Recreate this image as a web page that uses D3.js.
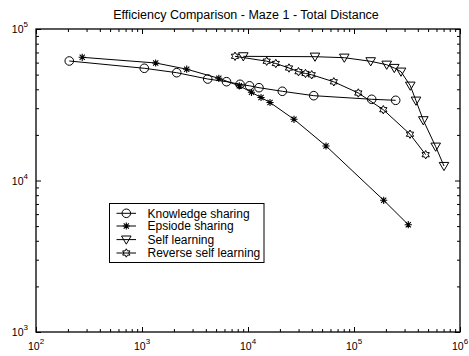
<!DOCTYPE html>
<html><head><meta charset="utf-8">
<script src="https://cdn.jsdelivr.net/npm/d3@7"></script>
<style>
html,body{margin:0;padding:0;background:#fff;}
svg{display:block;font-family:"Liberation Sans",Arial,Helvetica,sans-serif;}
</style></head>
<body>
<svg id="chart" width="469" height="356"></svg>
<script>
const title = "Efficiency Comparison - Maze 1 - Total Distance";
const seriesNames = ["Knowledge sharing", "Epsiode sharing", "Self learning", "Reverse self learning"];
const markerTypes = ["circle", "asterisk", "triangle", "hexagram"];

const knowledgeX = [206, 1051, 2125, 4168, 6270, 8405, 10330, 12700, 21070, 41690, 146900, 247300];
const knowledgeY = [61500, 55050, 51470, 46770, 44900, 43150, 42170, 40980, 38800, 36300, 34360, 33830];

const episodeX = [273, 1346, 2641, 5305, 8277, 10790, 13270, 16130, 27160, 54450, 190600, 325200];
const episodeY = [65030, 59650, 54280, 47260, 42170, 38200, 35300, 32730, 25350, 16900, 7402, 5108];

const selfX = [9030, 42850, 81000, 143700, 203500, 239900, 277500, 339700, 384600, 450700, 590000, 706300];
const selfY = [66000, 65640, 64650, 61200, 58090, 55280, 52280, 42250, 33640, 24970, 16720, 12460];

const reverseX = [7540, 15010, 18290, 24370, 29940, 34870, 39900, 64480, 109800, 189000, 337600, 474500];
const reverseY = [66050, 61300, 59200, 55280, 52280, 50860, 49860, 44820, 37810, 29330, 20210, 14800];

const xMajorExp = [2, 3, 4, 5, 6];
const yMajorExp = [3, 4, 5];

const seriesX = [knowledgeX, episodeX, selfX, reverseX];
const seriesY = [knowledgeY, episodeY, selfY, reverseY];

const L = 36, R = 460, T = 29, B = 332;
const svg = d3.select("#chart");
const x = d3.scaleLog().domain([1e2, 1e6]).range([L, R]);
const y = d3.scaleLog().domain([1e3, 1e5]).range([B, T]);

function minors(lo, hi) {
  const out = [];
  for (let e = lo; e < hi; e++) for (let m = 2; m <= 9; m++) out.push(m * Math.pow(10, e));
  return out;
}
const xMinor = minors(2, 6), yMinor = minors(3, 5);
const xMajor = xMajorExp.map(e => Math.pow(10, e));
const yMajor = yMajorExp.map(e => Math.pow(10, e));

function drawAxis(gen, vals, size, transform) {
  const g = svg.append("g").attr("transform", transform)
    .call(gen.tickValues(vals).tickSize(size).tickFormat(""));
  g.select(".domain").remove();
  g.selectAll(".tick line").attr("stroke", "#000").attr("stroke-width", 1);
}
drawAxis(d3.axisBottom(x), xMinor, -3, `translate(0,${B})`);
drawAxis(d3.axisBottom(x), xMajor, -5, `translate(0,${B})`);
drawAxis(d3.axisTop(x), xMinor, -3, `translate(0,${T})`);
drawAxis(d3.axisTop(x), xMajor, -5, `translate(0,${T})`);
drawAxis(d3.axisLeft(y), yMinor, -3, `translate(${L},0)`);
drawAxis(d3.axisLeft(y), yMajor, -5, `translate(${L},0)`);
drawAxis(d3.axisRight(y), yMinor, -3, `translate(${R},0)`);
drawAxis(d3.axisRight(y), yMajor, -5, `translate(${R},0)`);

svg.append("rect").attr("x", L).attr("y", T).attr("width", R - L).attr("height", B - T)
  .attr("fill", "none").attr("stroke", "#000").attr("stroke-width", 1.3);

xMajorExp.forEach(e => {
  const t = svg.append("text").attr("x", x(Math.pow(10, e)) - 8).attr("y", 350)
    .attr("font-size", 10.5).attr("fill", "#000");
  t.append("tspan").text("10");
  t.append("tspan").attr("dy", -6).attr("font-size", 8).text(e);
});
yMajorExp.forEach(e => {
  const t = svg.append("text").attr("x", 28).attr("y", y(Math.pow(10, e)) + 4)
    .attr("text-anchor", "end").attr("font-size", 10.5).attr("fill", "#000");
  t.append("tspan").text("10");
  t.append("tspan").attr("dy", -6).attr("font-size", 8).text(e);
});

svg.append("text").attr("x", 246).attr("y", 19).attr("text-anchor", "middle")
  .attr("font-size", 12.5).attr("fill", "#000").text(title);

function marker(g, type, cx, cy) {
  if (type === "circle") {
    g.append("circle").attr("cx", cx).attr("cy", cy).attr("r", 4.3)
      .attr("fill", "none").attr("stroke", "#000").attr("stroke-width", 1);
  } else if (type === "asterisk") {
    const r = 3.6, d = r * 0.72;
    g.append("path").attr("d",
      `M${cx - r},${cy}L${cx + r},${cy}M${cx},${cy - r}L${cx},${cy + r}` +
      `M${cx - d},${cy - d}L${cx + d},${cy + d}M${cx - d},${cy + d}L${cx + d},${cy - d}`)
      .attr("stroke", "#000").attr("stroke-width", 1.1).attr("fill", "none");
  } else if (type === "triangle") {
    const w = 4.8, h = 3.6;
    g.append("path").attr("d", `M${cx - w},${cy - h}L${cx + w},${cy - h}L${cx},${cy + h + 1}Z`)
      .attr("fill", "none").attr("stroke", "#000").attr("stroke-width", 1);
  } else {
    const ro = 4.2, ri = 2.4, pts = [];
    for (let i = 0; i < 12; i++) {
      const a = -Math.PI / 2 + i * Math.PI / 6, rr = i % 2 ? ri : ro;
      pts.push([cx + rr * Math.cos(a), cy + rr * Math.sin(a)]);
    }
    g.append("path").attr("d", "M" + pts.map(p => p.join(",")).join("L") + "Z")
      .attr("fill", "none").attr("stroke", "#000").attr("stroke-width", 1);
  }
}

const line = d3.line().x(d => x(d[0])).y(d => y(d[1]));
seriesX.forEach((xs, i) => {
  const pts = xs.map((v, j) => [v, seriesY[i][j]]);
  const g = svg.append("g");
  g.append("path").attr("d", line(pts)).attr("fill", "none").attr("stroke", "#000").attr("stroke-width", 1);
  pts.forEach(p => marker(g, markerTypes[i], x(p[0]), y(p[1])));
});

const lg = svg.append("g");
lg.append("rect").attr("x", 109.5).attr("y", 203.5).attr("width", 154.5).attr("height", 59)
  .attr("fill", "#fff").attr("stroke", "#000").attr("stroke-width", 1);
const rowY = [213.3, 226, 239.6, 253];
seriesNames.forEach((n, i) => {
  lg.append("line").attr("x1", 116.5).attr("x2", 136).attr("y1", rowY[i]).attr("y2", rowY[i])
    .attr("stroke", "#000").attr("stroke-width", 1);
  marker(lg, markerTypes[i], 126.3, rowY[i]);
  lg.append("text").attr("x", 147.5).attr("y", rowY[i] + 4.2).attr("font-size", 12)
    .attr("fill", "#000").text(n);
});
</script>
</body></html>
